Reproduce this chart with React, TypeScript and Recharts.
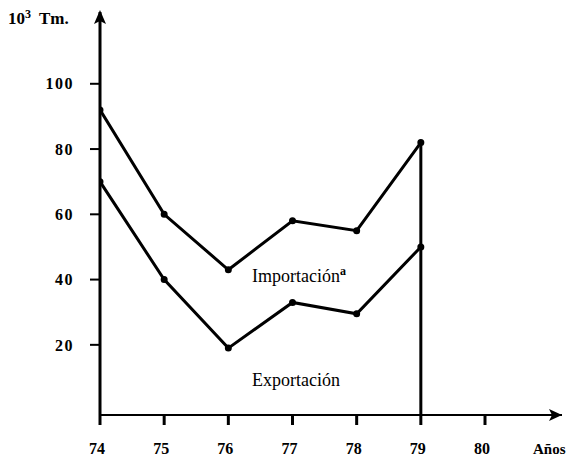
import React from "react";
import { LineChart, Line, XAxis, YAxis, ReferenceLine, ReferenceDot } from "recharts";

const years = [74, 75, 76, 77, 78, 79];
const importacion = [92, 60, 43, 58, 55, 82];
const exportacion = [70, 40, 19, 33, 29.5, 50];
const xTicks = [74, 75, 76, 77, 78, 79, 80];
const yTicks = [20, 40, 60, 80, 100];

const data = years.map((y, i) => ({ year: y, imp: importacion[i], exp: exportacion[i] }));

const FONT = '"Liberation Serif", "Times New Roman", serif';
const X_MIN = 74;
const X_MAX = 81.2;
const Y_MIN = -1.5;
const Y_MAX = 122;

const ArrowRight = (props: any) => {
  const { cx, cy } = props;
  return <path d={`M${cx} ${cy} L${cx - 13} ${cy - 6} L${cx - 10} ${cy} L${cx - 13} ${cy + 6} Z`} fill="#000" />;
};
const ArrowUp = (props: any) => {
  const { cx, cy } = props;
  return <path d={`M${cx} ${cy - 2} L${cx - 6} ${cy + 12} L${cx} ${cy + 9} L${cx + 6} ${cy + 12} Z`} fill="#000" />;
};

export default function App() {
  return (
    <div style={{ position: "absolute", left: 0, top: 0, width: 574, height: 457, background: "#fff" }}>
      <LineChart width={574} height={457} data={data} margin={{ top: 12, right: 12, left: 0, bottom: 0 }}>
        <XAxis
          dataKey="year"
          type="number"
          domain={[X_MIN, X_MAX]}
          ticks={xTicks}
          allowDataOverflow
          height={42}
          axisLine={{ stroke: "#000", strokeWidth: 2 }}
          tickLine={{ stroke: "#000", strokeWidth: 3 }}
          tickSize={10}
          tickMargin={18}
          tick={{ fill: "#000", fontFamily: FONT, fontSize: 16, fontWeight: "bold", dx: -3 }}
        />
        <YAxis
          type="number"
          domain={[Y_MIN, Y_MAX]}
          ticks={yTicks}
          allowDataOverflow
          width={100}
          axisLine={{ stroke: "#000", strokeWidth: 3 }}
          tickLine={{ stroke: "#000", strokeWidth: 2 }}
          tickSize={10}
          tickMargin={16}
          tick={{ fill: "#000", fontFamily: FONT, fontSize: 16, fontWeight: "bold", letterSpacing: 1.5 }}
        />
        <ReferenceLine
          segment={[{ x: 79, y: Y_MIN }, { x: 79, y: importacion[5] }]}
          stroke="#000"
          strokeWidth={3}
          ifOverflow="visible"
        />
        <Line
          dataKey="imp"
          stroke="#000"
          strokeWidth={3}
          dot={{ r: 2, fill: "#000", stroke: "#000" }}
          isAnimationActive={false}
        />
        <Line
          dataKey="exp"
          stroke="#000"
          strokeWidth={3}
          dot={{ r: 2, fill: "#000", stroke: "#000" }}
          isAnimationActive={false}
        />
        <ReferenceDot x={X_MAX} y={Y_MIN} r={0} ifOverflow="visible" shape={ArrowRight} />
        <ReferenceDot x={X_MIN} y={Y_MAX} r={0} ifOverflow="visible" shape={ArrowUp} />
      </LineChart>
      <div style={{ position: "absolute", left: 8, top: 10, fontFamily: FONT, fontSize: 17, fontWeight: "bold", color: "#000", whiteSpace: "nowrap", lineHeight: "18px" }}>
        10<sup style={{ fontSize: 12, verticalAlign: "6px", lineHeight: 0 }}>3</sup>
        <span style={{ marginLeft: 8 }}>Tm.</span>
      </div>
      <div style={{ position: "absolute", left: 252, top: 266, fontFamily: FONT, fontSize: 18, color: "#000", whiteSpace: "nowrap", lineHeight: "20px" }}>
        Importación<sup style={{ fontSize: 12, fontWeight: "bold", verticalAlign: "7px", lineHeight: 0 }}>a</sup>
      </div>
      <div style={{ position: "absolute", left: 252, top: 370, fontFamily: FONT, fontSize: 18, color: "#000", whiteSpace: "nowrap", lineHeight: "20px" }}>
        Exportación
      </div>
      <div style={{ position: "absolute", left: 533, top: 441, fontFamily: FONT, fontSize: 15, fontWeight: "bold", color: "#000", whiteSpace: "nowrap", lineHeight: "16px" }}>
        Años
      </div>
    </div>
  );
}
